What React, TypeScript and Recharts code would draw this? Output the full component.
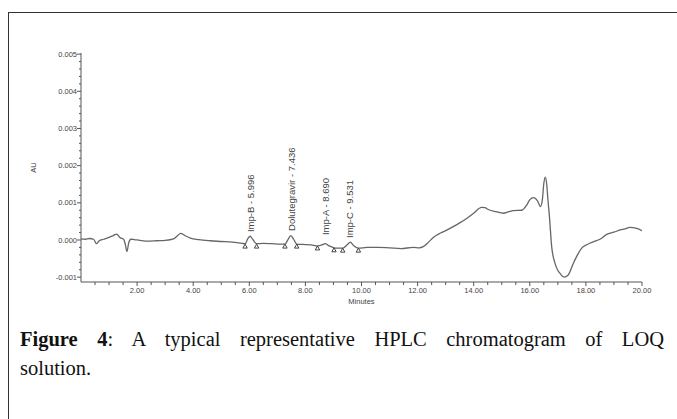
import React from "react";
import { ComposedChart, Line, Scatter, XAxis, YAxis } from "recharts";

// Retention time (minutes) and absorbance (AU) of the trace
const times = [
  0.0, 0.15, 0.3, 0.45, 0.55, 0.65, 0.8, 1.0, 1.15, 1.27, 1.4, 1.52, 1.58, 1.64, 1.7, 1.78, 1.9,
  2.1, 2.4, 2.7, 3.0, 3.3, 3.45, 3.55, 3.7, 3.9, 4.2, 4.6, 5.0, 5.4, 5.75, 5.85, 5.95, 6.03, 6.12,
  6.26, 6.5, 6.8, 7.1, 7.27, 7.4, 7.48, 7.58, 7.69, 7.9, 8.2, 8.43, 8.6, 8.7, 8.85, 9.02, 9.15,
  9.33, 9.5, 9.6, 9.72, 9.89, 10.2, 10.6, 11.0, 11.4, 11.85, 12.05, 12.2, 12.4, 12.56, 12.8, 13.0,
  13.27, 13.5, 13.75, 14.0, 14.28, 14.4, 14.52, 14.8, 15.06, 15.25, 15.41, 15.71, 15.89, 16.0,
  16.13, 16.27, 16.38, 16.45, 16.5, 16.55, 16.6, 16.65, 16.7, 16.78, 16.9, 17.0, 17.08, 17.22,
  17.37, 17.55, 17.7, 17.85, 18.05, 18.26, 18.5, 18.74, 19.0, 19.22, 19.4, 19.57, 19.81, 20.0,
];
const absorbance = [
  0.00003, 0.00002, 0.00004, 0.00002, -0.0001, -0.00002, 0.00002, 0.00007, 0.00012, 0.00016,
  0.00006, 0.00002, -0.00012, -0.00031, -0.00008, 0.00002, 0.00001,
  -0.00001, -0.00003, -0.00002, -0.00001, 0.00003, 0.00012, 0.00018, 0.00012, 0.00005, 0.00001,
  -0.00002, -0.00004, -0.00006, -0.00009, -0.0001, 0.00004, 0.0001, 0.00002,
  -0.0001, -0.00009, -0.0001, -0.00011, -0.00011, 0.00004, 0.00012, 0.00002, -0.00011, -0.00012,
  -0.00013, -0.00016, -0.00013, -0.0001, -0.00016, -0.00021, -0.00022,
  -0.00022, -0.00012, -0.00006, -0.00015, -0.00022, -0.0002, -0.0002, -0.00021, -0.00023, -0.0002,
  -0.00021, -0.00018, -0.00005, 0.00007, 0.00018, 0.00025,
  0.00036, 0.00046, 0.00058, 0.00072, 0.00088, 0.00087, 0.00082, 0.00076, 0.00072, 0.00076,
  0.00079, 0.0008, 0.00094, 0.00108,
  0.00114, 0.00106, 0.0009, 0.0011, 0.00152, 0.00169, 0.00152, 0.00105, 0.00063, -0.00018,
  -0.00063, -0.00082, -0.0009, -0.001,
  -0.00094, -0.00063, -0.0004, -0.00022, -0.00012, -0.00005, 0.00002, 0.00015, 0.00021, 0.00027,
  0.0003, 0.00034, 0.00031, 0.00025,
];

// Peak annotations
const peakNames = ["Imp-B - 5.996", "Dolutegravir - 7.436", "Imp-A - 8.690", "Imp-C - 9.531"];
const peakLabelTimes = [6.05, 7.49, 8.72, 9.58];
const peakLabelValues = [0.00016, 0.00019, 0.00008, 0.0];

// Integration marks (peak start / end)
const markTimes = [5.85, 6.26, 7.27, 7.69, 8.43, 9.02, 9.33, 9.89];
const markValues = [-0.00011, -0.00011, -0.00011, -0.00011, -0.00016, -0.00021, -0.00022, -0.00022];

// Axis ticks
const xTicks = [
  0.5, 1, 1.5, 2, 2.5, 3, 3.5, 4, 4.5, 5, 5.5, 6, 6.5, 7, 7.5, 8, 8.5, 9, 9.5, 10, 10.5, 11, 11.5,
  12, 12.5, 13, 13.5, 14, 14.5, 15, 15.5, 16, 16.5, 17, 17.5, 18, 18.5, 19, 19.5, 20,
];
const xLabelled = [2, 4, 6, 8, 10, 12, 14, 16, 18, 20];
const yTicks = [
  -0.001, -0.0008, -0.0006, -0.0004, -0.0002, 0, 0.0002, 0.0004, 0.0006, 0.0008, 0.001, 0.0012,
  0.0014, 0.0016, 0.0018, 0.002, 0.0022, 0.0024, 0.0026, 0.0028, 0.003, 0.0032, 0.0034, 0.0036,
  0.0038, 0.004, 0.0042, 0.0044, 0.0046, 0.0048, 0.005,
];
const yLabelled = [-0.001, 0, 0.001, 0.002, 0.003, 0.004, 0.005];

const trace = times.map((t, i) => ({ t, v: absorbance[i] }));
const peakLabels = peakNames.map((name, i) => ({ t: peakLabelTimes[i], v: peakLabelValues[i], name }));
const marks = markTimes.map((t, i) => ({ t, v: markValues[i] }));

const FONT = "'Liberation Sans', Arial, sans-serif";
const AXIS = "#555";
const TXT = "#444";

const isLab = (arr: number[], v: number) => arr.some((a) => Math.abs(a - v) < 1e-9);

const XTick = (props: any) => {
  const { x, y, payload } = props;
  const major = isLab(xLabelled, payload.value);
  return (
    <g>
      <line x1={x} x2={x} y1={y} y2={y + (major ? 4 : 3)} stroke={AXIS} strokeWidth={1} />
      {major && (
        <text x={x} y={y + 11} textAnchor="middle" fontSize={7.5} fill={TXT} fontFamily={FONT}>
          {payload.value.toFixed(2)}
        </text>
      )}
    </g>
  );
};

const YTick = (props: any) => {
  const { x, y, payload } = props;
  const major = isLab(yLabelled, payload.value);
  return (
    <g>
      <line x1={x - (major ? 4 : 2)} x2={x} y1={y} y2={y} stroke={AXIS} strokeWidth={1} />
      {major && (
        <text x={x - 4} y={y + 2.6} textAnchor="end" fontSize={7.5} fill={TXT} fontFamily={FONT}>
          {payload.value.toFixed(3)}
        </text>
      )}
    </g>
  );
};

const PeakLabel = (props: any) => {
  const { cx, cy, payload } = props;
  const y = cy - 2;
  return (
    <text
      x={cx}
      y={y}
      transform={`rotate(-90, ${cx}, ${y})`}
      textAnchor="start"
      dominantBaseline="central"
      fontSize={9.5}
      fill={TXT}
      fontFamily={FONT}
    >
      {payload.name}
    </text>
  );
};

const Mark = (props: any) => {
  const { cx, cy } = props;
  return <path d={`M${cx},${cy} L${cx - 2.2},${cy + 4} L${cx + 2.2},${cy + 4} Z`} fill="none" stroke="#444" strokeWidth={1} />;
};

const AULabel = (props: any) => {
  const vb = props.viewBox || {};
  const x = vb.x + 12;
  const y = vb.y + vb.height / 2;
  return (
    <text x={x} y={y} transform={`rotate(-90, ${x}, ${y})`} textAnchor="middle" dominantBaseline="central" fontSize={7.5} fill={TXT} fontFamily={FONT}>
      AU
    </text>
  );
};

export default function App() {
  return (
    <div style={{ position: "absolute", left: 0, top: 0, width: 677, height: 419, overflow: "hidden", background: "#fff" }}>
      <div
        style={{
          position: "absolute",
          left: 8,
          top: 12,
          width: 720,
          height: 440,
          border: "1.5px solid #333",
          boxSizing: "border-box",
        }}
      />
      <div style={{ position: "absolute", left: 0, top: 0 }}>
        <ComposedChart width={677} height={310} margin={{ top: 53, right: 35, bottom: 0, left: 21 }}>
          <XAxis
            xAxisId={0}
            type="number"
            dataKey="t"
            domain={[0, 20]}
            ticks={xTicks}
            interval={0}
            tickLine={false}
            tickSize={0}
            tickMargin={0}
            tick={<XTick />}
            height={28}
            axisLine={{ stroke: AXIS, strokeWidth: 1 }}
            allowDataOverflow
            label={{ value: "Minutes", position: "insideBottom", offset: 6, fontSize: 7.5, fill: TXT, fontFamily: FONT }}
          />
          <XAxis xAxisId="top" orientation="top" type="number" domain={[0, 20]} tick={false} tickLine={false} height={0} axisLine={{ stroke: AXIS, strokeWidth: 1 }} />
          <YAxis
            yAxisId={0}
            type="number"
            dataKey="v"
            domain={[-0.00113, 0.00503]}
            ticks={yTicks}
            interval={0}
            tickLine={false}
            tickSize={0}
            tickMargin={0}
            tick={<YTick />}
            width={60}
            axisLine={{ stroke: AXIS, strokeWidth: 1 }}
            allowDataOverflow
            label={<AULabel />}
          />
          <YAxis yAxisId="right" orientation="right" type="number" domain={[0, 1]} tick={false} tickLine={false} width={0} axisLine={{ stroke: AXIS, strokeWidth: 1 }} />
          <Line
            data={trace}
            dataKey="v"
            xAxisId={0}
            yAxisId={0}
            type="monotone"
            stroke="#666"
            strokeWidth={1.3}
            dot={false}
            isAnimationActive={false}
          />
          <Scatter data={marks} dataKey="v" xAxisId={0} yAxisId={0} shape={<Mark />} isAnimationActive={false} />
          <Scatter data={peakLabels} dataKey="v" xAxisId={0} yAxisId={0} shape={<PeakLabel />} isAnimationActive={false} />
        </ComposedChart>
      </div>
      <div
        style={{
          position: "absolute",
          left: 20,
          top: 325,
          width: 644,
          fontFamily: "'Liberation Serif', 'Times New Roman', serif",
          fontSize: 20.5,
          lineHeight: "29px",
          color: "#111",
        }}
      >
        <div style={{ textAlign: "justify", textAlignLast: "justify" }}>
          <b>Figure 4</b>: A typical representative HPLC chromatogram of LOQ
        </div>
        <div>solution.</div>
      </div>
    </div>
  );
}
